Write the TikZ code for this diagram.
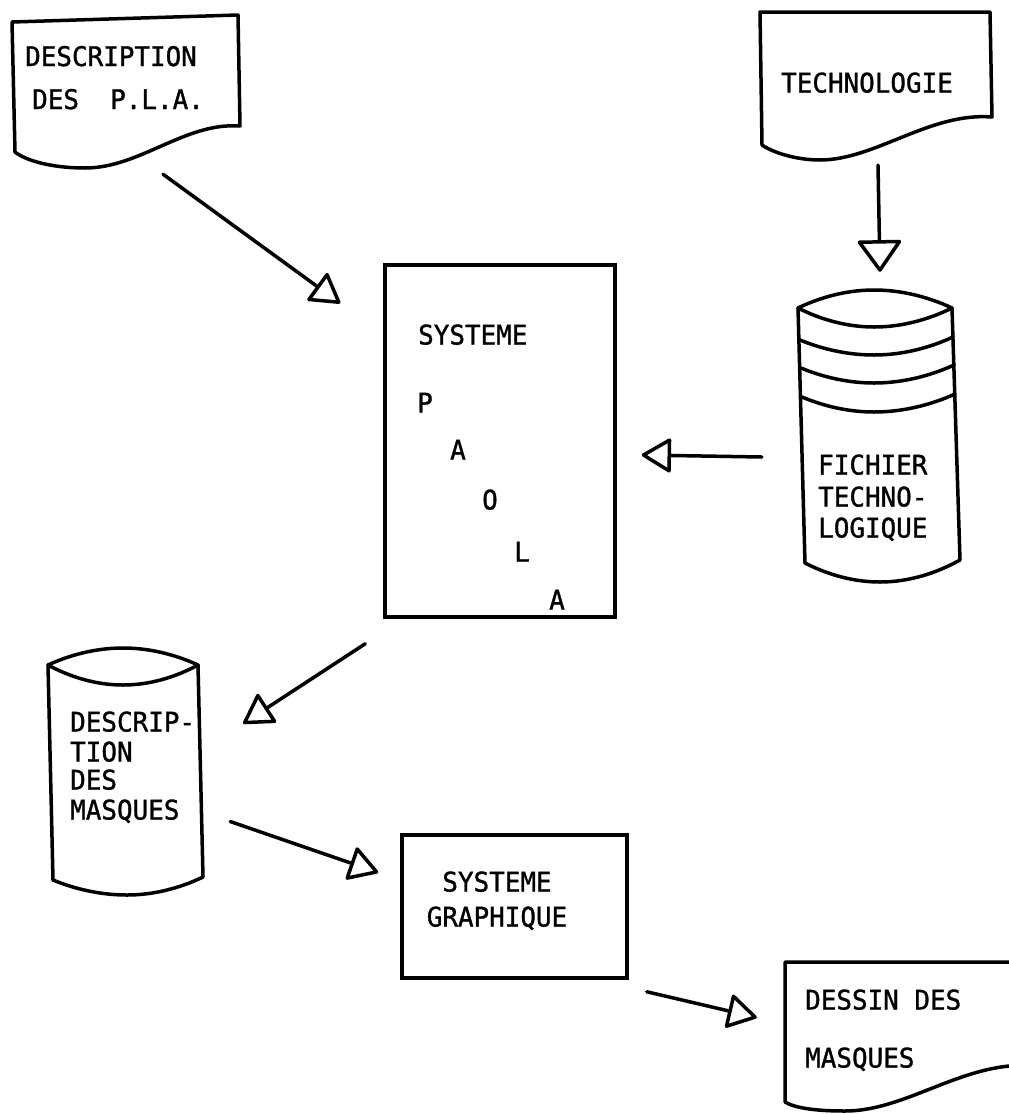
\documentclass[tikz,border=0pt]{standalone}
\usepackage{fontspec}
\newfontfamily\tw{DejaVu Sans Mono}[FakeBold=1.2, FakeStretch=0.96]
\usetikzlibrary{arrows.meta,calc}
\begin{document}
\begin{tikzpicture}[x=1pt,y=-1pt,
  shp/.style={line width=3.5pt, line join=round, line cap=round},
  frm/.style={draw=none, inner sep=0pt},
  boxed/.style={draw, line width=3.5pt, inner sep=0pt},
  lbl/.style={font=\tw\fontsize{27}{30}\selectfont, inner sep=0pt, anchor=base west},
  clbl/.style={font=\tw\fontsize{27}{30}\selectfont, inner sep=0pt, anchor=base},
  arr/.style={line width=3.5pt, line cap=round, -{Triangle[open, length=31pt, width=36pt, round]}},
]
\useasboundingbox (0,0) rectangle (1009,1114);
\fill[white] (0,0) rectangle (1009,1114);
\clip (0,0) rectangle (1009,1114);

% frames
\node[frm, minimum width=230pt, minimum height=156pt] (doc1) at (125,90) {};
\node[frm, minimum width=232pt, minimum height=150pt] (tech) at (876,86) {};
\node[frm, minimum width=162pt, minimum height=292pt] (fich) at (879,436) {};
\node[frm, minimum width=155pt, minimum height=247pt] (masq) at (125.5,771.5) {};
\node[frm, minimum width=275pt, minimum height=151pt] (dessin) at (922.5,1037.5) {};
\node[boxed, minimum width=230pt, minimum height=352pt] (paola) at (500,441) {};
\node[boxed, minimum width=225pt, minimum height=143pt] (graph) at (514.5,906.5) {};

% document: DESCRIPTION DES P.L.A.
\draw[shp] (12,22) -- (238,15) -- (240,126)
  .. controls (185,122) and (140,168) .. (85,168)
  .. controls (50,168) and (25,160) .. (15,152) -- cycle;
% document: TECHNOLOGIE
\draw[shp] (760,12) -- (990,12) -- (992,117)
  .. controls (930,112) and (875,160) .. (820,160)
  .. controls (795,160) and (772,152) .. (762,145) -- cycle;
% document: DESSIN DES MASQUES
\draw[shp] (785,1102) -- (785,962) -- (1060,962) -- (1060,1062) -- (1009,1066)
  .. controls (950,1072) and (900,1111) .. (845,1111)
  .. controls (815,1111) and (795,1108) .. (785,1102);

% cylinder: FICHIER TECHNOLOGIQUE
\draw[shp] (798,308) parabola bend (874,290) (952,308);
\draw[shp] (798,308) parabola bend (874,327) (952,308);
\draw[shp] (800,340) parabola bend (874,355) (953,337);
\draw[shp] (801,368) parabola bend (874,383) (954,365);
\draw[shp] (802,397) parabola bend (874,412) (955,394);
\draw[shp] (798,308) -- (805,563);
\draw[shp] (952,308) -- (960,560);
\draw[shp] (805,563) parabola bend (880,582) (960,560);

% cylinder: DESCRIPTION DES MASQUES
\draw[shp] (48,665) parabola bend (123,648) (198,665);
\draw[shp] (48,665) parabola bend (123,685) (198,665);
\draw[shp] (48,665) -- (53,880);
\draw[shp] (198,665) -- (203,877);
\draw[shp] (53,880) parabola bend (127,895) (203,877);

% texts
\node[lbl] (t1a) at (25,66) {DESCRIPTION};
\node[lbl] (t1b) at (32,109) {DES\ \ P.L.A.};
\node[clbl] (t2) at (867,92.5) {TECHNOLOGIE};
\node[lbl] (t3a) at (818,474.5) {FICHIER};
\node[lbl] (t3b) at (818,506.5) {TECHNO-};
\node[lbl] (t3c) at (818,537.5) {LOGIQUE};
\node[lbl] (t4) at (418,344.5) {SYSTEME};
\node[clbl] (p1) at (425,412.5) {P};
\node[clbl] (p2) at (458,459.5) {A};
\node[clbl] (p3) at (490,509.5) {O};
\node[clbl] (p4) at (522,561.5) {L};
\node[clbl] (p5) at (557,609.5) {A};
\node[lbl] (t5a) at (70,731.5) {DESCRIP-};
\node[lbl] (t5b) at (70,761.5) {TION};
\node[lbl] (t5c) at (70,789.5) {DES};
\node[lbl] (t5d) at (70,819.5) {MASQUES};
\node[clbl] (t6a) at (497,891.5) {SYSTEME};
\node[clbl] (t6b) at (497,926.5) {GRAPHIQUE};
\node[lbl] (t7a) at (805,1009.5) {DESSIN DES};
\node[lbl] (t7b) at (805,1067.5) {MASQUES};

% connectors
\draw[arr] ([shift={(38,6)}]doc1.south) -- ([shift={(-43,40)}]paola.north west);
\draw[line width=3.5pt, line cap=round, -{Triangle[open, length=33pt, width=46pt, round]}]
  ([shift={(2,4)}]tech.south) -- ([shift={(1,-18)}]fich.north);
\draw[arr] ([shift={(-36,21)}]fich.west) -- ([shift={(25,14)}]paola.east);
\draw[arr] ([shift={(-18,25)}]paola.south west) -- ([shift={(40,-48)}]masq.east);
\draw[arr] ([shift={(27,50)}]masq.east) -- ([shift={(-22,-34)}]graph.west);
\draw[arr] ([shift={(18,12)}]graph.south east) -- ([shift={(-28,-20)}]dessin.west);
\end{tikzpicture}
\end{document}
